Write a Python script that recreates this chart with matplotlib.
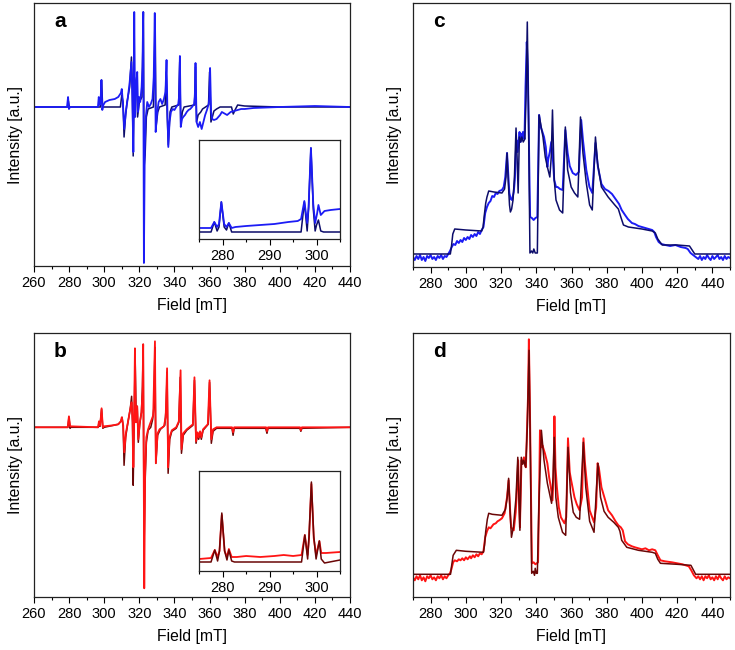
import matplotlib
matplotlib.use("Agg")
import matplotlib.pyplot as plt
from matplotlib.ticker import MultipleLocator, NullLocator

plt.rcParams['font.family'] = ['Liberation Sans', 'DejaVu Sans']

# ---------------- data (field in mT, intensity in a.u.) ----------------
# panel a: experimental (blue) and simulation (navy)
a_exp_B = [260, 278.8, 279.4, 279.9, 280.5, 296.4, 296.9, 297.4, 297.9, 298.4, 298.9, 299.5, 300.5, 303, 306,
           308, 309.5, 310, 310.6, 311.4, 312.3, 313.5, 314.5, 315.5, 316, 316.6, 317.1, 317.6, 318.2, 318.8,
           319.3, 319.8, 320.5, 321.3, 321.8, 322.2, 322.6, 323.1, 323.7, 324.5, 325.5, 326.5, 327.5, 328.2,
           328.8, 329.3, 330.2, 331, 332, 333, 334, 334.9, 335.5, 336, 336.5, 337.2, 338, 339, 340, 341,
           342.2, 342.6, 343.1, 343.6, 344.3, 345, 346, 347, 348, 349, 350, 351.2, 351.6, 352, 352.6, 353.5,
           354.5, 355.5, 356.5, 357.5, 358.5, 359.5, 359.9, 360.3, 360.9, 361.5, 362.5, 364, 366, 367, 368,
           370, 372, 374, 376, 378, 380, 385, 400, 420, 440]
a_exp_I = [0, 0, 10, -2, 0, 0, 10, 2, 5, 27, -3, 2, 5, 7, 8,
           10, 14, 18, 5, -22, -5, 10, 25, 45, 10, -45, 95, -10, 20, 35,
           -5, 10, 5, 20, 40, 95, -156, -40, -10, 5, 0, 3, 8, 30,
           94, -25, -5, 5, 8, 3, 8, 15, 47, -5, -40, -15, -5, -2, -3, 0,
           3, 10, 51, -20, -12, -10, -8, -5, -3, -2, 0, 3, 10, 44, -15, -20,
           -15, -22, -15, -8, -3, 3, 10, 39, -5, -12, -13, -12, -8, -5, -6,
           -8, -5, -4, -3, -2, -2, -1, 0, 1, 0]
a_sim_B = [260, 279.1, 279.6, 280.1, 297.9, 298.5, 299.1, 309.2, 310, 310.7, 311.3, 312.2, 313, 314.5, 315.5,
           316, 316.5, 317, 317.8, 318.5, 319, 320, 321.5, 322, 322.3, 322.7, 323.3, 324, 325, 328,
           328.5, 329, 329.5, 330.5, 331.5, 334.7, 335.3, 335.9, 336.5, 337.5, 338.5, 342.4, 343, 343.6,
           344.5, 345.5, 351.4, 352, 352.6, 353.5, 355, 356, 359.4, 360, 360.8, 361.6, 362.5, 364, 366,
           372.5, 373.5, 374.5, 376, 380, 400, 440]
a_sim_I = [0, 0, 6, 0, 0, 27, 0, 0, 12, 5, -30, -8, 5, 20, 50,
           20, -49, 10, 20, 30, -10, 5, 10, 60, 95, -60, -48, -10, -2, 0,
           30, 90, -20, -5, 0, 2, 35, -10, -38, -5, 0, 2, 45, -18,
           -5, 0, 2, 40, -15, -8, -5, -2, 2, 35, -15, -10, -4, -2, 0,
           0, -7, -3, 2, 1, 0, 0]

# inset of panel a
ai_exp_B = [275, 277.5, 278.2, 278.8, 279.2, 279.7, 280.3, 280.8, 281.3, 281.9, 282.7, 285, 288, 291, 294,
            296, 296.7, 297.4, 298, 298.3, 298.8, 299.3, 299.7, 300.1, 300.4, 300.9, 301.7, 303, 305]
ai_exp_I = [11, 11, 17, 12, 15, 37, 15, 12, 16, 11, 12, 13, 14, 15, 17,
            18, 20, 38, 16, 32, 91, 35, 16, 25, 34, 24, 28, 29, 30]
ai_sim_B = [275, 277.5, 278.2, 278.8, 279.2, 279.7, 280.3, 280.8, 281.3, 281.9, 296.7, 297.4, 298, 298.3,
            298.8, 299.3, 299.7, 300, 300.4, 300.9, 301.5, 305]
ai_sim_I = [7, 7, 17, 8, 12, 37, 12, 9, 16, 7, 7, 37, 8, 30,
            91, 30, 8, 14, 19, 8, 7, 7]

# panel b: experimental (red) and simulation (dark red)
b_exp_B = [260, 279.2, 279.9, 280.6, 296.5, 297, 297.7, 298.5, 299.2, 300, 305, 308, 309.5, 310, 310.8,
           311.4, 312.4, 313.5, 314.8, 315.6, 316.2, 316.6, 317.1, 317.5, 318, 318.8, 319.4, 320.3, 321.2,
           321.8, 322.2, 322.8, 323.3, 324, 325, 326, 327.9, 328.9, 329.4, 330.4, 331.5, 334, 335, 335.8,
           336.4, 337.2, 338.5, 341, 342.5, 343.5, 344, 345, 347, 350.5, 351.4, 352.3, 353.2, 353.8, 354.6,
           355.3, 356.3, 359, 360, 361, 362, 364, 372.8, 373.4, 374, 392.2, 392.7, 393.3, 411.5, 412, 412.6, 440]
b_exp_I = [0, 0, 11, 1, 0, 6, 2, 19, 0, 1, 2, 3, 6, 10, 2,
           -25, -5, 5, 18, 25, 5, -40, 20, 79, 5, 21, -12, 5, 15,
           35, 83, -161, -45, -10, -2, 3, 12, 86, -36, -6, -2, 1, 10, 59,
           -40, -10, -3, 0, 6, 57, -22, -6, -2, 3, 50, -14, -5, -10, -4,
           -10, -2, 3, 47, -12, -2, 0, 0, -5, 0, 0, -4, 0, 0, -3, 0, 0]
b_sim_B = [260, 279.3, 279.9, 280.5, 281, 296.6, 297, 297.6, 298.5, 299.2, 300, 308, 309.5, 310.2, 310.8,
           311.3, 312.2, 313.5, 314.8, 315.6, 316.1, 316.5, 317, 317.6, 318.2, 318.8, 319.4, 320.2, 321.2,
           321.8, 322.2, 322.7, 323.2, 324, 325, 326.5, 327.6, 328.3, 328.9, 329.4, 330.4, 332, 334.5,
           335.3, 335.8, 336.4, 337.3, 338.5, 341, 342.5, 343.3, 344, 345, 347, 350.5, 351.4, 352.3, 353.2,
           353.8, 354.6, 355.3, 356.3, 359.2, 360, 361, 362, 364, 372.8, 373.4, 374, 392, 392.7, 393.3,
           411.5, 412, 412.6, 440]
b_sim_I = [0, 0, 10, -1, 0, 0, 5, 1, 18, -1, 0, 3, 6, 10, 0,
           -38, -10, 5, 18, 31, 5, -58, 0, 70, 10, 21, -15, 3, 15,
           41, 83, -120, -60, -15, -3, 0, 8, 20, 80, -36, -8, -2, 2,
           20, 55, -46, -12, -4, -1, 5, 50, -26, -8, -3, 2, 47, -16, -6,
           -12, -5, -12, -3, 3, 45, -16, -4, -1, -1, -8, -1, -1, -6, -1,
           -1, -4, -1, 0]

# inset of panel b
bi_exp_B = [275, 277.5, 278.3, 278.9, 279.3, 279.8, 280.4, 280.9, 281.3, 281.9, 283, 285, 288, 291, 293,
            295, 296.8, 297.5, 298.1, 298.4, 298.9, 299.4, 299.9, 300.2, 300.6, 301, 302, 305]
bi_exp_I = [12, 13, 21, 14, 20, 56, 20, 14, 22, 14, 14, 15, 14, 15, 16,
            15, 16, 36, 16, 33, 87, 33, 16, 22, 30, 18, 18, 19]
bi_sim_B = [275, 277.5, 278.3, 278.9, 279.3, 279.8, 280.4, 280.9, 281.3, 281.9, 282.5, 296.8, 297.5, 298.1,
            298.4, 298.9, 299.4, 299.9, 300.2, 300.6, 301, 301.7, 305]
bi_sim_I = [9, 9, 21, 10, 20, 58, 20, 11, 21, 10, 9, 9, 36, 12,
            35, 89, 35, 12, 20, 30, 12, 8, 11]

# panel c: experimental (blue) and simulation (navy)
c_exp_B = [270, 271, 272, 273, 274, 275, 276, 277, 278, 279, 280, 281, 282, 283, 284, 285, 286, 287, 288,
           289, 290, 291, 292, 293, 294, 295, 296, 297, 298, 299, 300, 301, 302, 303, 304, 305, 306, 307,
           308, 309, 310, 311, 312, 313, 314, 315, 316, 317, 318, 319, 320.5, 321.5, 322.4, 323.4, 324.7,
           325.5, 326.2, 327.2, 327.8, 328.7, 329.4, 330.5, 331, 331.4, 332, 332.4, 333.3, 333.9, 334.6,
           335.2, 335.6, 336.2, 336.5, 337.5, 338.5, 339.5, 340.6, 341.2, 341.6, 342.5, 343.5, 344.4, 345.4,
           346.3, 346.8, 347.7, 348.5, 349.2, 350.2, 351.2, 352.1, 353.5, 355, 356.5, 357.8, 359, 360.7,
           362.5, 364.2, 365.5, 366.5, 368.4, 370.2, 371.8, 373.6, 375, 377, 379, 381, 383, 385, 387,
           388.5, 390.4, 392, 394.3, 396, 398, 400, 402, 404, 405.8, 407, 408, 409.5, 411, 413.3, 416,
           419, 422, 424.8, 426, 427.6, 429, 430.5, 432, 433, 434, 435, 436, 437, 438, 439, 440, 441, 442,
           443, 444, 445, 446, 447, 448, 449, 450]
c_exp_I = [10, 7, 11, 8, 12, 7, 10, 6, 11, 9, 12, 8, 10, 7, 11, 9, 12, 8, 11,
           10, 13, 16, 20, 23, 22, 26, 24, 27, 25, 29, 27, 30, 28, 32, 30, 33, 31, 35,
           33, 37, 40, 54, 60, 64, 66, 71, 70, 74, 73, 76, 77, 80, 90, 114, 74,
           68, 67, 75, 87, 127, 115, 135, 125, 133, 128, 135, 128, 180, 225,
           200, 150, 80, 50, 49, 47, 49, 50, 110, 152, 140, 135, 130, 120,
           100, 108, 115, 125, 114, 87, 80, 80, 78, 77, 137, 114, 101, 94,
           92, 95, 147, 127, 97, 80, 74, 124, 100, 83, 78, 76, 73, 68, 63,
           57, 52, 48, 44, 43, 41, 40, 39, 38, 37, 35, 30, 25, 23, 22, 21,
           22, 20, 19, 18, 14, 12, 10, 8, 11, 7, 10, 8, 12, 9, 7, 11, 8, 10,
           12, 8, 10, 7, 11, 8, 10, 9]
c_sim_B = [270, 291.2, 291.8, 292.6, 293.7, 300, 309, 309.8, 310.5, 311.3, 312, 313, 316, 320.5, 322, 322.8,
           323.4, 324.1, 324.8, 325.3, 326, 326.8, 327.6, 328.5, 329.1, 329.7, 330.4, 331.2, 331.8, 332.6,
           333.5, 334.2, 334.9, 335.6, 336.4, 337.3, 338, 338.6, 339.4, 340.6, 341.6, 342.5, 343.8, 345.1,
           346.3, 347.7, 348.5, 349.2, 350.2, 351.2, 353.2, 355, 356.5, 357.8, 359.8, 361.7, 363.6, 365.1,
           366.5, 368.4, 370.3, 371.8, 373.6, 374.8, 377, 380.8, 384.6, 386.6, 388, 389.5, 392.3, 400,
           405.8, 407.6, 409, 411.5, 420, 427, 428.5, 430, 450]
c_sim_I = [13, 13, 20, 33, 38, 37, 36, 40, 52, 64, 70, 76, 75, 74, 78, 90,
           114, 85, 62, 55, 58, 67, 90, 139, 110, 74, 130, 125, 130, 125,
           128, 170, 245, 150, 14, 16, 14, 18, 14, 14, 152, 143, 130, 110,
           100, 90, 110, 157, 87, 67, 57, 54, 140, 97, 80, 74, 70, 150,
           114, 84, 62, 57, 130, 104, 80, 70, 62, 58, 50, 42, 40, 38,
           36, 34, 28, 22, 22, 21, 17, 13, 13]

# panel d: experimental (red) and simulation (dark red)
d_exp_B = [270, 271, 272, 273, 274, 275, 276, 277, 278, 279, 280, 281, 282, 283, 284, 285, 286, 287, 288,
           289, 290, 291, 291.8, 292.8, 293.7, 295, 296, 297, 298, 299, 300, 301, 302.3, 303, 304, 305, 306,
           307, 308, 309, 310, 311, 312, 313, 314, 315.7, 317, 318, 319, 320.5, 322, 323.4, 324.3, 325.2,
           325.7, 327.2, 328.3, 328.8, 329.7, 330.2, 330.7, 331.6, 332.3, 333, 333.6, 334.1, 334.8, 335.3,
           335.8, 336.3, 336.8, 337.5, 338.5, 339.5, 341, 341.6, 342.1, 343, 343.5, 344.9, 346.3, 347.3,
           348.3, 349.2, 349.8, 350.3, 350.9, 351.7, 352.8, 354, 356, 357, 358, 359, 359.8, 361.7, 363,
           364.6, 366, 366.8, 367.6, 368.4, 370.3, 372.8, 374, 374.8, 375.5, 377, 380.8, 383, 385, 386.6,
           388, 389.1, 390.4, 392, 394.3, 396, 398, 400, 402, 404, 405.8, 407.6, 409, 410.5, 413, 417, 420,
           423, 426.6, 428, 429.5, 431, 432, 433, 434, 435, 436, 437, 438, 439, 440, 441, 442, 443, 444,
           445, 446, 447, 448, 449, 450]
d_exp_I = [20, 17, 21, 18, 22, 17, 20, 16, 21, 19, 22, 18, 20, 17, 21, 19, 22, 18, 21,
           19, 22, 24, 28, 35, 37, 36, 38, 37, 39, 37, 40, 38, 41, 39, 42, 40, 43,
           41, 44, 43, 46, 60, 66, 70, 69, 73, 74, 76, 77, 79, 84, 100, 117, 85,
           70, 67, 85, 100, 137, 100, 70, 137, 134, 140, 132, 130, 170, 200,
           258, 200, 130, 34, 35, 33, 35, 100, 167, 150, 152, 144, 134, 120,
           110, 97, 120, 181, 130, 110, 90, 80, 74, 80, 159, 125, 117, 100, 93,
           87, 100, 159, 135, 120, 87, 75, 90, 134, 130, 110, 87, 82, 76, 72,
           70, 67, 56, 53, 51, 50, 49, 48, 49, 47, 48, 47, 42, 37, 36, 35, 34,
           33, 31, 27, 22, 19, 21, 18, 21, 17, 21, 19, 22, 18, 20, 17, 21, 18, 22,
           19, 17, 21, 18, 20, 19]
d_sim_B = [270, 291.3, 291.8, 292.8, 294.6, 300, 310, 310.6, 311.3, 312.2, 313, 315, 320.5, 322.5, 323.5,
           324.3, 325, 325.9, 327, 328.5, 329.5, 330.1, 330.7, 331.5, 332.3, 332.9, 334, 334.9, 335.9,
           336.6, 337.4, 338.3, 339, 339.4, 340, 340.6, 341.6, 342.9, 344.4, 346.3, 348.7, 349.5, 350.2,
           351.1, 352.5, 354.9, 356.7, 358, 359.4, 361, 362.7, 364.6, 366.7, 368.1, 370.3, 372.8, 375,
           376.5, 378.5, 380.8, 384, 386.6, 387.5, 388.5, 391.4, 398, 405.8, 407.6, 409, 410.5, 420,
           427.8, 429, 430.5, 450]
d_sim_I = [23, 23, 30, 42, 47, 46, 45, 52, 66, 78, 84, 83, 82, 88, 100,
           119, 90, 60, 70, 100, 140, 100, 67, 140, 133, 137, 130, 170, 247,
           150, 24, 26, 22, 29, 24, 24, 100, 167, 137, 114, 94, 120, 160,
           100, 80, 65, 62, 150, 105, 85, 80, 78, 155, 110, 76, 65, 134,
           100, 86, 80, 75, 70, 66, 57, 50, 47, 45, 44, 38, 34, 33,
           32, 28, 23, 23]

wide_ticks = [260, 280, 300, 320, 340, 360, 380, 400, 420, 440]
narrow_ticks = [280, 300, 320, 340, 360, 380, 400, 420, 440]
inset_ticks = [280, 290, 300]

# ---------------- styling ----------------
BLUE = '#1c1cf5'
NAVY = '#0c0c6a'
RED = '#ff1414'
DRED = '#6a0606'
FS = 10.5
LFS = 11.3

fig = plt.figure(figsize=(7.35, 6.5), dpi=100)


def style(ax, xlim, ylim, ticks, minor, letter=None, label=True):
    ax.set_xlim(*xlim)
    ax.set_ylim(*ylim)
    ax.set_xticks(ticks)
    ax.xaxis.set_minor_locator(MultipleLocator(minor))
    ax.yaxis.set_major_locator(NullLocator())
    ax.yaxis.set_minor_locator(NullLocator())
    ax.tick_params(axis='x', which='major', direction='out', length=4, width=0.8,
                   labelsize=FS, pad=3)
    ax.tick_params(axis='x', which='minor', direction='out', length=2.5, width=0.8)
    for s in ax.spines.values():
        s.set_linewidth(0.9)
        s.set_color('#222222')
    if label:
        ax.set_xlabel('Field [mT]', fontsize=LFS, labelpad=6)
        ax.set_ylabel('Intensity [a.u.]', fontsize=LFS, labelpad=8)
    if letter:
        ax.text(0.083, 0.93, letter, transform=ax.transAxes, fontsize=15,
                fontweight='bold', ha='center', va='center')


# panel a
ax_a = fig.add_axes([34 / 735, 1 - 266 / 650, 316 / 735, 263 / 650])
ax_a.plot(a_sim_B, a_sim_I, color=NAVY, lw=1.1)
ax_a.plot(a_exp_B, a_exp_I, color=BLUE, lw=1.3)
style(ax_a, (260, 440), (-159, 104), wide_ticks, 10, 'a')

ax_ai = fig.add_axes([199.3 / 735, 1 - 239 / 650, 140.7 / 735, 99 / 650])
ax_ai.plot(ai_sim_B, ai_sim_I, color=NAVY, lw=1.1)
ax_ai.plot(ai_exp_B, ai_exp_I, color=BLUE, lw=1.3)
style(ax_ai, (275, 305), (0, 99), inset_ticks, 5, label=False)

# panel b
ax_b = fig.add_axes([34 / 735, 1 - 597.3 / 650, 316 / 735, 264 / 650])
ax_b.plot(b_sim_B, b_sim_I, color=DRED, lw=1.1)
ax_b.plot(b_exp_B, b_exp_I, color=RED, lw=1.3)
style(ax_b, (260, 440), (-170, 94), wide_ticks, 10, 'b')

ax_bi = fig.add_axes([199.3 / 735, 1 - 571 / 650, 140.7 / 735, 100 / 650])
ax_bi.plot(bi_exp_B, bi_exp_I, color=RED, lw=1.3)
ax_bi.plot(bi_sim_B, bi_sim_I, color=DRED, lw=1.1)
style(ax_bi, (275, 305), (0, 100), inset_ticks, 5, label=False)

# panel c
ax_c = fig.add_axes([413 / 735, 1 - 267 / 650, 317 / 735, 264 / 650])
ax_c.plot(c_exp_B, c_exp_I, color=BLUE, lw=1.4)
ax_c.plot(c_sim_B, c_sim_I, color=NAVY, lw=1.1)
style(ax_c, (270, 450), (0, 264), narrow_ticks, 10, 'c')

# panel d
ax_d = fig.add_axes([413 / 735, 1 - 597.3 / 650, 317 / 735, 264 / 650])
ax_d.plot(d_exp_B, d_exp_I, color=RED, lw=1.4)
ax_d.plot(d_sim_B, d_sim_I, color=DRED, lw=1.1)
style(ax_d, (270, 450), (0, 264), narrow_ticks, 10, 'd')

fig.savefig('out.png', dpi=100)
